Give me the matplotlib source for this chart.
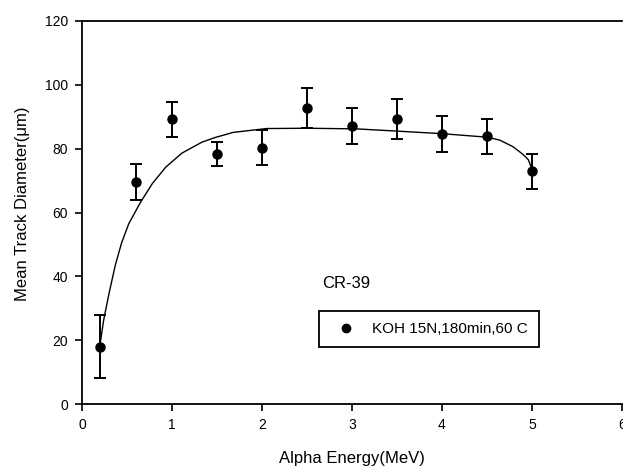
import matplotlib
matplotlib.use("Agg")
import matplotlib.pyplot as plt
from matplotlib.lines import Line2D

plt.rcParams['font.family'] = ['Liberation Sans', 'DejaVu Sans']

# Measured mean track diameters for CR-39 (KOH 15N, 180 min, 60 C)
energy = [0.2, 0.6, 1.0, 1.5, 2.0, 2.5, 3.0, 3.5, 4.0, 4.5, 5.0]
diameter = [18.0, 69.5, 89.2, 78.4, 80.3, 92.7, 87.2, 89.3, 84.6, 83.9, 72.9]
diameter_err = [10.0, 5.7, 5.4, 3.7, 5.5, 6.2, 5.6, 6.4, 5.7, 5.5, 5.4]

# Fitted trend curve
fit_energy = [0.20, 0.24, 0.30, 0.37, 0.44, 0.52, 0.65, 0.78, 0.93, 1.11,
              1.33, 1.48, 1.68, 2.05, 2.50, 3.05, 3.50, 4.00, 4.50, 4.64,
              4.79, 4.90, 4.96, 5.00]
fit_diameter = [18.5, 26.2, 34.6, 43.5, 50.5, 56.5, 63.2, 69.0, 74.2, 78.6,
                82.0, 83.5, 85.1, 86.3, 86.4, 86.2, 85.5, 84.7, 83.6, 82.7,
                80.6, 78.2, 76.5, 73.5]

x_ticks = [0, 1, 2, 3, 4, 5, 6]
y_ticks = [0, 20, 40, 60, 80, 100, 120]
series_label = 'KOH 15N,180min,60 C'

fig = plt.figure(figsize=(6.23, 4.66), dpi=100)
ax = fig.add_axes([82 / 623, 1 - 404 / 466, 540 / 623, 383 / 466])

ax.plot(fit_energy, fit_diameter, color='black', lw=1.0, zorder=2)
ax.errorbar(energy, diameter, yerr=diameter_err, fmt='o', color='black',
            ms=6.5, elinewidth=1.4, capsize=4.5, capthick=1.4, zorder=3)

ax.set_xlim(0, 6)
ax.set_ylim(0, 120)
ax.set_xticks(x_ticks)
ax.set_yticks(y_ticks)
ax.tick_params(direction='out', length=5, width=1.2, labelsize=10, pad=5)

ax.spines['right'].set_visible(False)
for side in ('left', 'bottom', 'top'):
    ax.spines[side].set_linewidth(1.3)

ax.set_xlabel('Alpha Energy(MeV)', fontsize=12, va='center')
ax.xaxis.set_label_coords(0.5, -0.141)
ax.set_ylabel('Mean Track Diameter(\u03bcm)', fontsize=12, va='center')
ax.yaxis.set_label_coords(-0.111, 0.522)

ax.text(2.67, 37.8, 'CR-39', fontsize=12, ha='left', va='center')

handle = Line2D([], [], ls='none', marker='o', ms=6, color='black')
leg = ax.legend([handle], [series_label], loc='center',
                bbox_to_anchor=(429 / 623, 1 - 329 / 466),
                bbox_transform=fig.transFigure, fontsize=11, frameon=True,
                fancybox=False, framealpha=1, edgecolor='black',
                borderpad=0.75, handlelength=2.0, handletextpad=0.7,
                numpoints=1)
leg.get_frame().set_linewidth(1.3)

fig.savefig('out.png', dpi=100)
